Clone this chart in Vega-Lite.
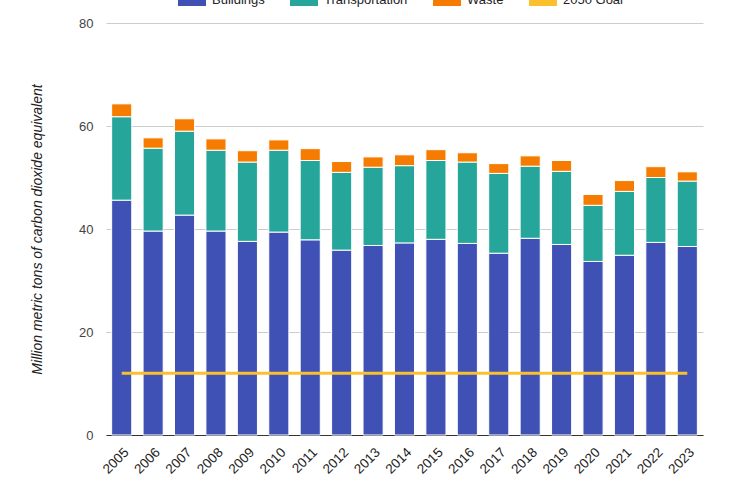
{
  "$schema": "https://vega.github.io/schema/vega-lite/v6.json",
  "width": 597,
  "height": 412,
  "autosize": {"type": "none"},
  "padding": {"left": 106, "top": 23, "right": 33, "bottom": 55},
  "background": "white",
  "config": {
    "font": "Liberation Sans",
    "view": {"stroke": null},
    "axis": {"labelFont": "Liberation Sans", "labelFontSize": 13, "labelColor": "#444444", "titleFont": "Liberation Sans"}
  },
  "data": {
    "values": [
      {"year": "2005", "Buildings": 45.6, "Transportation": 16.2, "Waste": 2.5, "goal": 12},
      {"year": "2006", "Buildings": 39.6, "Transportation": 16.1, "Waste": 2.0, "goal": 12},
      {"year": "2007", "Buildings": 42.7, "Transportation": 16.3, "Waste": 2.4, "goal": 12},
      {"year": "2008", "Buildings": 39.6, "Transportation": 15.7, "Waste": 2.2, "goal": 12},
      {"year": "2009", "Buildings": 37.6, "Transportation": 15.4, "Waste": 2.2, "goal": 12},
      {"year": "2010", "Buildings": 39.4, "Transportation": 15.9, "Waste": 2.0, "goal": 12},
      {"year": "2011", "Buildings": 37.9, "Transportation": 15.4, "Waste": 2.3, "goal": 12},
      {"year": "2012", "Buildings": 35.9, "Transportation": 15.1, "Waste": 2.1, "goal": 12},
      {"year": "2013", "Buildings": 36.8, "Transportation": 15.2, "Waste": 2.0, "goal": 12},
      {"year": "2014", "Buildings": 37.3, "Transportation": 15.0, "Waste": 2.1, "goal": 12},
      {"year": "2015", "Buildings": 38.0, "Transportation": 15.3, "Waste": 2.1, "goal": 12},
      {"year": "2016", "Buildings": 37.2, "Transportation": 15.8, "Waste": 1.8, "goal": 12},
      {"year": "2017", "Buildings": 35.3, "Transportation": 15.5, "Waste": 1.9, "goal": 12},
      {"year": "2018", "Buildings": 38.2, "Transportation": 14.0, "Waste": 2.0, "goal": 12},
      {"year": "2019", "Buildings": 37.0, "Transportation": 14.2, "Waste": 2.1, "goal": 12},
      {"year": "2020", "Buildings": 33.7, "Transportation": 10.9, "Waste": 2.1, "goal": 12},
      {"year": "2021", "Buildings": 34.9, "Transportation": 12.4, "Waste": 2.1, "goal": 12},
      {"year": "2022", "Buildings": 37.4, "Transportation": 12.6, "Waste": 2.1, "goal": 12},
      {"year": "2023", "Buildings": 36.6, "Transportation": 12.7, "Waste": 1.8, "goal": 12}
    ]
  },
  "encoding": {
    "x": {
      "field": "year",
      "type": "ordinal",
      "title": null,
      "scale": {"paddingInner": 0.36, "paddingOuter": 0.18},
      "axis": {"labelAngle": -45, "ticks": false, "domainColor": "#333333", "labelPadding": 10, "labelFontSize": 13.5, "labelColor": "#222222"}
    }
  },
  "layer": [
    {
      "transform": [{"fold": ["Buildings", "Transportation", "Waste"], "as": ["sector", "value"]}],
      "mark": {"type": "bar", "stroke": "white", "strokeWidth": 1},
      "encoding": {
        "y": {
          "field": "value",
          "type": "quantitative",
          "stack": "zero",
          "scale": {"domain": [0, 80]},
          "title": "Million metric tons of carbon dioxide equivalent",
          "axis": {
            "values": [0, 20, 40, 60, 80],
            "domain": false,
            "ticks": false,
            "gridColor": "#cccccc",
            "labelPadding": 13,
            "titleFontStyle": "italic",
            "titleFontWeight": "normal",
            "titleFontSize": 14,
            "titleColor": "#222222",
            "titlePadding": 34
          }
        },
        "order": {"field": "sector", "sort": "ascending"},
        "color": {
          "field": "sector",
          "type": "nominal",
          "scale": {
            "domain": ["Buildings", "Transportation", "Waste", "2050 Goal"],
            "range": ["#3f51b5", "#26a69a", "#f57c00", "#fbc02d"]
          },
          "legend": {
            "title": null,
            "orient": "none",
            "direction": "horizontal",
            "columns": 4,
            "legendX": 72,
            "legendY": -37,
            "padding": 0,
            "symbolType": "M-1,-0.43H1V0.43H-1Z",
            "symbolSize": 784,
            "symbolStrokeWidth": 0,
            "labelFontSize": 13,
            "labelColor": "#222222",
            "labelOffset": 6,
            "columnPadding": 25,
            "encode": {
              "symbols": {"update": {"fillOpacity": {"signal": "datum.label == '2050 Goal' ? 0.3 : 1"}}}
            }
          }
        }
      }
    },
    {
      "mark": {"type": "line", "strokeWidth": 3},
      "encoding": {
        "y": {"field": "goal", "type": "quantitative"},
        "color": {"datum": "2050 Goal"}
      }
    }
  ]
}
